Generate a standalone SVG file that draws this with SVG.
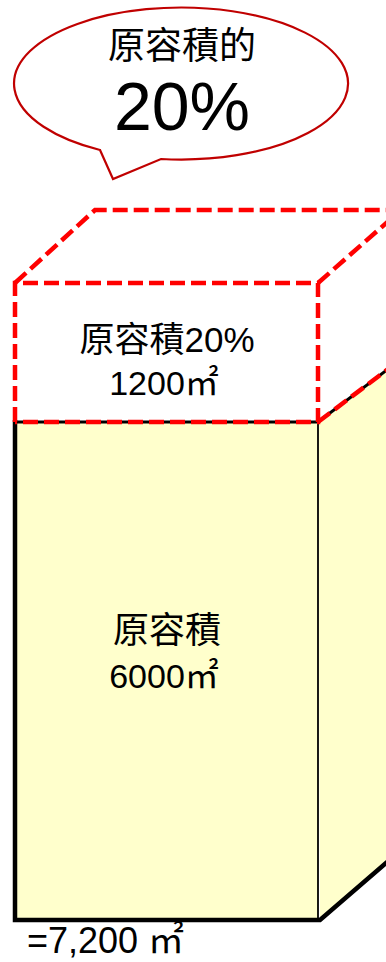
<svg xmlns="http://www.w3.org/2000/svg" width="386" height="962" viewBox="0 0 386 962">
<style>
.t{font-family:"Liberation Sans","Noto Sans CJK TC",sans-serif;fill:#000;text-anchor:middle}
.red{fill:none;stroke:#FF0000;stroke-width:4.5;stroke-dasharray:15 6}
.yel{fill:#FFFFCC;stroke:none}
</style>
<rect width="386" height="962" fill="#fff"/>
<g id="bubble">
<path d="M100,150 A167,76 0 1 1 161,159 L113,179 Z" fill="#fff" stroke="#C00000" stroke-width="2.2" stroke-linejoin="miter"/>
<text class="t" x="182" y="59" font-size="37">原容積的</text>
<text class="t" x="182" y="130" font-size="68">20%</text>
</g>
<g id="base-box">
<polygon class="yel" points="318,422 400,360 400,852 320,921"/>
<rect class="yel" x="15" y="422" width="303" height="498"/>
<line x1="318" y1="422" x2="318" y2="920" stroke="#000" stroke-width="1.8"/>
<line x1="15" y1="422" x2="318" y2="422" stroke="#000" stroke-width="3"/>
<line x1="318" y1="422" x2="400" y2="360" stroke="#000" stroke-width="3"/>
<polyline points="15,420 15,920 320,920 400,851" fill="none" stroke="#000" stroke-width="4.5" stroke-linejoin="miter"/>
<text class="t" x="167" y="643" font-size="36">原容積</text>
<text class="t" x="164" y="688" font-size="34">6000㎡</text>
</g>
<g id="extra-box">
<path class="red" d="M15,422 L15,283 L318,283 L318,422 L15,422"/>
<path class="red" d="M15,283 L95,210 L400,210"/>
<path class="red" d="M318,283 L400,211"/>
<path class="red" d="M318,422 L400,360"/>
<text class="t" x="167" y="352" font-size="35">原容積20%</text>
<text class="t" x="164" y="395" font-size="34">1200㎡</text>
</g>
<g id="total">
<text class="t" x="27" y="953" font-size="36" style="text-anchor:start">=7,200 ㎡</text>
</g>
<g id="connectors"></g>
</svg>
